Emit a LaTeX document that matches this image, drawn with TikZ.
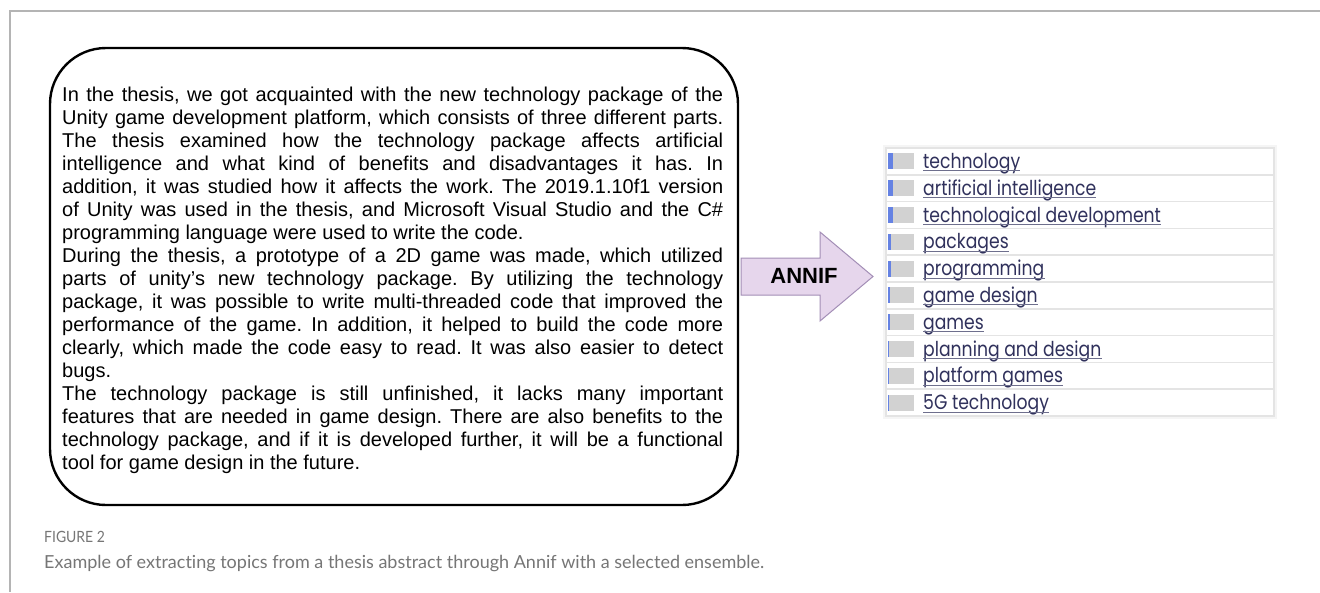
\documentclass[tikz,border=0pt]{standalone}
\usepackage{fontspec}
\setmainfont{Liberation Sans}[Ligatures=ResetAll]
\newfontfamily\tagfont[FakeStretch=0.84]{Poppins}
\newfontfamily\capfont[Ligatures=NoCommon]{Lato}
\newfontfamily\figfont[FakeStretch=0.9]{Lato}
\usetikzlibrary{positioning}
\definecolor{framegray}{HTML}{B4B4B4}
\definecolor{arrowfill}{HTML}{E6D6EC}
\definecolor{arrowline}{HTML}{A38EB6}
\definecolor{tagtext}{HTML}{30315C}
\definecolor{tagline}{HTML}{E4E4E4}
\definecolor{barblue}{HTML}{3F63DC}
\definecolor{bargray}{HTML}{D2D2D2}
\definecolor{capgray}{HTML}{767676}
\newlength\abswidth
\setlength\abswidth{661pt}
\newcommand\jline[1]{\makebox[\abswidth][s]{#1}}
\tikzset{
  abstract/.style={draw=black, line width=2.4pt, rounded corners=56pt},
  abstext/.style={anchor=north west, inner sep=0pt, align=left,
    font=\fontsize{20}{23}\selectfont\frenchspacing},
  blockarrow/.style={fill=arrowfill, draw=arrowline, line width=1pt},
  arrowlabel/.style={font=\fontsize{22}{24}\bfseries\selectfont, inner sep=0pt},
  tag/.style={anchor=base west, inner sep=0pt, text=tagtext,
    font=\tagfont\fontsize{20.5}{22}\selectfont},
  tagunder/.style={draw=tagtext!70, line width=1pt},
  rowline/.style={draw=tagline, line width=1.6pt},
}
\begin{document}
\begin{tikzpicture}[x=1pt,y=-1pt]
\useasboundingbox (0,0) rectangle (1320,592);
\fill[white] (0,0) rectangle (1320,592);
% outer page frame (top and left edges)
\draw[framegray, line width=1.6pt] (1320,11) -- (10,11) -- (10,592);

% rounded box holding the thesis abstract
\draw[abstract] (50,48) rectangle (738,505);
\node[abstext] (abs) at (62,86.5) {%
\jline{In the thesis, we got acquainted with the new technology package of the}\\
\jline{Unity game development platform, which consists of three different parts.}\\
\jline{The thesis examined how the technology package affects artificial}\\
\jline{intelligence and what kind of benefits and disadvantages it has. In}\\
\jline{addition, it was studied how it affects the work. The 2019.1.10f1 version}\\
\jline{of Unity was used in the thesis, and Microsoft Visual Studio and the C\#}\\
programming language were used to write the code.\\
\jline{During the thesis, a prototype of a 2D game was made, which utilized}\\
\jline{parts of unity's new technology package. By utilizing the technology}\\
\jline{package, it was possible to write multi-threaded code that improved the}\\
\jline{performance of the game. In addition, it helped to build the code more}\\
\jline{clearly, which made the code easy to read. It was also easier to detect}\\
bugs.\\
\jline{The technology package is still unfinished, it lacks many important}\\
\jline{features that are needed in game design. There are also benefits to the}\\
\jline{technology package, and if it is developed further, it will be a functional}\\
tool for game design in the future.};

% block arrow
\draw[blockarrow] (741,258) -- (820,258) -- (820,232) -- (873,276.5)
  -- (820,321) -- (820,295) -- (741,295) -- cycle;
\node[arrowlabel] (annif) at (804,276) {ANNIF};

% table of extracted subjects
\fill[gray!8] (883,145) rectangle (1277,419);
\fill[white] (886,148) rectangle (1274,416);
\draw[tagline, line width=1.8pt] (886,148) rectangle (1274,416);
\foreach \k in {1,...,9}{
  \draw[rowline] (886,{148+26.8*\k}) -- (1274,{148+26.8*\k});
}
\foreach \lab/\bw [count=\k from 0] in {
  technology/5, artificial intelligence/5, technological development/4.5,
  packages/3, programming/3, game design/2.2, games/2,
  planning and design/1.2, platform games/1.2, 5G technology/1}{
  \pgfmathsetmacro\yc{148+26.8*(\k+0.5)}
  \fill[bargray] (888,\yc-8) rectangle (914,\yc+8);
  \fill[barblue!80] (888,\yc-8) rectangle (888+\bw,\yc+8);
  \node[tag] (t\k) at (923,\yc+7) {\lab};
  \draw[tagunder] ([yshift=-2.5pt]t\k.base west) -- ([yshift=-2.5pt]t\k.base east);
}

% caption
\node[anchor=base west, inner sep=0pt, text=capgray,
  font=\figfont\fontsize{15.5}{17}\selectfont] (fig) at (44,542) {FIGURE 2};
\node[anchor=base west, inner sep=0pt, text=capgray,
  font=\capfont\fontsize{18}{20}\selectfont] (cap) at (44,568)
  {Example of extracting topics from a thesis abstract through Annif with a selected ensemble.};
\end{tikzpicture}
\end{document}
